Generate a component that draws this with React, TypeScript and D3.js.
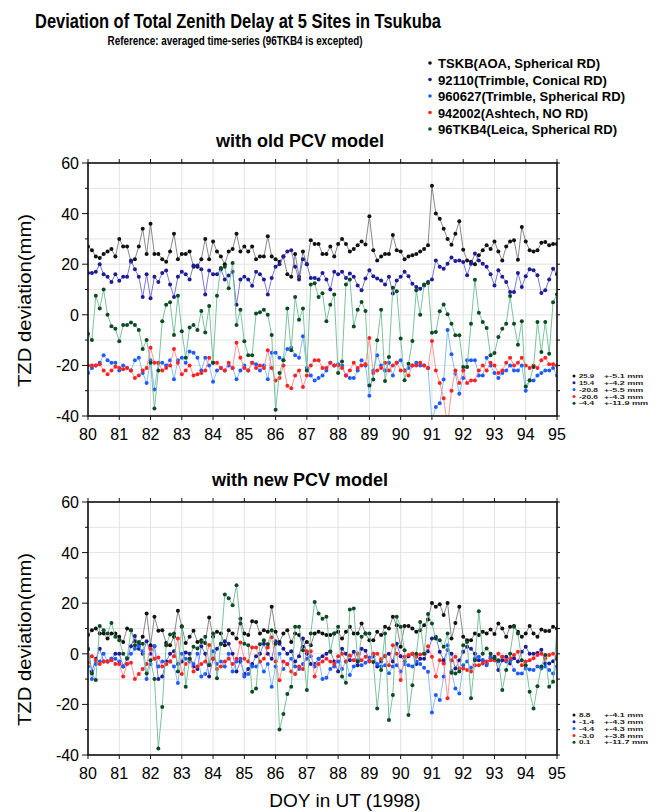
import * as d3 from 'd3';

// 3-hourly epochs, DOY 80.0 .. 95.0
const days = d3.range(121).map(i => 80 + i / 8);

const siteNames = [
  'TSKB(AOA, Spherical RD)',
  '92110(Trimble, Conical RD)',
  '960627(Trimble, Spherical RD)',
  '942002(Ashtech, NO RD)',
  '96TKB4(Leica, Spherical RD)',
];
const legendWidths = [162, 169, 187, 150, 179];
const dotColours = ['#111111', '#1c1c96', '#1f5cff', '#ff2222', '#0b4a22'];
const lineColours = ['#7a7a7a', '#6a6ad4', '#79b6ff', '#ff8a8a', '#6cbc92'];

// ---- with old PCV model ----
const oldTSKB = [
  27, 25.5, 23, 22.5, 24, 25, 26, 23,
  30, 27, 27, 21, 22, 27, 34, 24,
  36, 24, 24, 22, 21, 25, 32, 22,
  24, 24, 25, 19, 19, 22, 30, 22,
  29, 25, 23, 20, 25, 26, 32, 25,
  27, 25, 27, 22, 23, 23, 31, 23,
  22, 21, 23, 16, 15, 24, 15, 25,
  20, 29.5, 28, 28, 24, 24, 27, 23,
  28, 30, 28, 25, 26, 27.5, 29, 27.8,
  39, 25.5, 21.5, 23, 24, 24, 31.5, 25.5,
  25, 22, 23, 23.5, 24, 25, 26, 27.5,
  51, 40, 38, 34, 30, 27.7, 32, 37,
  25.7, 21.5, 21, 20, 23.5, 25.5, 27.5, 26,
  29, 25, 21.5, 27, 29, 29.5, 21.8, 34.7,
  29, 25.5, 25, 25.5, 28.5, 28.8, 27.5, 28,
  28,
];
const old92110 = [
  16.5, 16.5, 17, 20, 16, 15, 13, 16,
  13.5, 15, 15, 21.5, 18, 15, 7, 16,
  6.5, 15, 13, 16.5, 17.5, 12, 7, 15,
  17, 16, 14, 19.5, 19.5, 18, 8, 17.5,
  16, 16, 18, 14, 15.5, 17, 4, 14,
  15, 14, 11.5, 17, 16, 14, 8, 14.5,
  19, 20, 23, 25, 25.5, 19, 14, 22,
  20, 14.5, 14.5, 14, 16.5, 14, 10, 17,
  16, 17, 14.5, 16.3, 15, 11.6, 9.7, 14.3,
  17.6, 15.2, 14.3, 13.6, 12, 15, 8.4, 13.6,
  15, 17, 15.2, 12.3, 11, 10.3, 11.6, 13,
  14, 21.5, 19, 18.2, 20.2, 22.6, 21.3, 21.5,
  20.9, 15.6, 20.2, 24.2, 21.5, 20.2, 19, 16,
  11.6, 17.6, 15, 13, 9, 9, 16.5, 11,
  15.2, 18, 17.6, 15.6, 8.6, 9.7, 14, 18.2,
  16,
];
const old960627 = [
  -23, -21, -20, -19, -16, -18, -19, -19,
  -22, -20, -21, -22, -18, -17, -23, -27,
  -18, -29.5, -19, -19, -20, -18, -25.5, -18,
  -17, -19, -14.5, -15, -17, -22, -17, -20,
  -26.5, -22, -21, -22, -20, -21, -25.5, -22,
  -20, -22, -19, -19.5, -22, -20, -25.5, -15,
  -15, -17, -18, -13.5, -13, -16, -17, -8.5,
  -21, -24, -26, -25, -24, -22, -19, -20,
  -19.5, -20, -24, -25, -25, -22, -18, -20,
  -32, -22, -16, -20, -22, -19, -24, -19,
  -18, -22, -21, -20, -19, -20, -20, -21,
  -42, -36.4, -35, -25.6, -6, -15.6, -23.3, -31.2,
  -25, -18, -18, -18, -24, -24, -17, -20,
  -23, -25, -23, -22, -20, -22, -22, -20,
  -30, -26, -26, -24, -23, -22, -22, -21,
  -24,
];
const old942002 = [
  -20, -20, -20, -19.5, -22, -23.5, -22, -20.5,
  -21, -21.5, -21, -22, -25, -24, -22, -21,
  -13, -19, -19, -22, -21, -20, -13.5, -19,
  -23.5, -22, -20, -24, -23.5, -23, -22, -17,
  -19, -19, -21, -22, -19, -21, -11, -17,
  -21, -22, -19, -21, -20, -21, -14, -21,
  -26, -25, -20, -28, -29, -24, -22, -28.5,
  -24, -20, -18, -18, -21, -21, -19, -20,
  -20, -21, -24, -22, -19, -21, -20, -19.5,
  -9.2, -23, -22, -21, -19, -22, -20, -19,
  -22, -22, -24, -20, -20, -19, -20, -21,
  -10.4, -22, -27, -33, -44, -30, -22, -27,
  -22, -27, -26, -26, -22, -20, -22, -19,
  -20, -23, -22, -19, -17, -20, -19, -17,
  -20, -21, -20, -21, -18, -17, -19.5, -19.5,
  -20,
];
const old96TKB4 = [
  -7.5, -10, 7.5, 2.5, 10, 0, -4.5, -5.5,
  -10.5, -4, -4, -3, -4, -6, -13.5, -10,
  -19, -37, -22, -2.5, 4, 5, -8, 7.5,
  -6.5, -17, -5, -4, -6, 1.5, -7, 3.5,
  -19, 7.5, 18.5, 19, 10.5, 20.5, -4, 2,
  -10.5, -16, -16, 0.5, 1, 2, 0, -8,
  -37.5, -23, -18, 2.5, -14, 7, -2, 2.5,
  -22, 12, 12.5, 7, 8.5, -2.5, 4, 8,
  -23, -18.5, 12, 14, -4.6, 2, 5.1, 1.5,
  -27.9, -25.6, -10.1, 2, -26.2, -16.7, 10.7, 9.3,
  -9.4, -25.9, -19.3, -10.4, 9.7, 0, 12, 12.6,
  -7.1, -6.8, 1.4, 4.1, 0.2, -3.5, -8.1, -8.1,
  -20.6, -20.6, -3.5, 13.9, 0.8, -2.8, -5.2, -16,
  -15.1, -8.8, -5.5, -3.5, 7.4, -3.5, -11.8, -2.5,
  -28.3, -25.9, -20.6, -2.8, -14.7, -2.8, -15.4, 5,
  8.1,
];
const oldStats = [
  ['25.9', '+-5.1 mm'],
  ['15.4', '+-4.2 mm'],
  ['-20.8', '+-5.5 mm'],
  ['-20.6', '+-4.3 mm'],
  ['-4.4', '+-11.9 mm'],
];

// ---- with new PCV model ----
const newTSKB = [
  7.4, 9.3, 10, 8, 8, 6, 8, 8,
  6.7, 4.7, 10, 9.3, 5, 3.8, 6.7, 15.9,
  3.4, 14.6, 9.1, 9.3, 4.3, 3.4, 6.7, 17,
  10.9, 4.3, 6.7, 9.1, 4.7, 5.4, 4.3, 14.3,
  6.7, 8.7, 8, 3.4, 9.3, 8, 6, 13.9,
  8, 7.4, 12.9, 12.6, 8, 9.3, 8.7, 18.6,
  8.7, 4.7, 8, 9.3, 4.7, 8, 7.4, 2.8,
  4.7, 3.4, 8, 8.7, 8, 7.4, 7.4, 8,
  8.7, 6, 8.7, 10.7, 8, 8, 12, 8,
  5.4, 5.4, 8.7, 7.4, 10.7, 10, 14.6, 11.3,
  2.8, 11, 11, 10, 8.7, 9.3, 11.3, 13.6,
  20.1, 18.6, 19.6, 15.3, 20.1, 6, 12.2, 18.6,
  6.7, 5.4, 5.4, 8, 7.4, 8.7, 8, 9.6,
  7.8, 12, 10, 6.7, 10.7, 11, 8.7, 6.7,
  8, 11, 8, 6.7, 9.6, 9, 9, 10.7,
  10,
];
const new92110 = [
  2, -7, -2, 2, -3, -3, -2, 0,
  0, -5, -2, 3, 7, 2, 0, 5,
  0, 3, -10, -9, -3, 0, 1, -4,
  -3, 0.5, 0, -5, -6, 3, 0, -9,
  -2, 2, 4, 5, 4, 0, -7, -3,
  -8, -6, -4, -1, 0, 4, 0, -2,
  5, 4, 2, 0, 1, -3, -1, 6,
  0, -4, -4, -2, -1, 0, 1, -3,
  -7, 2, 0, -2.5, 0.8, -4.5, 2, 1.2,
  -2.5, -1, -5, -3, -1, 0, -3, 4,
  -1, -3, -1, 0, -4, -2, -2, 1,
  6, 6.7, 0.8, -2.5, 1.5, 0, -5.8, -2.5,
  0.8, 2.8, 2, 0, -2.5, -2.5, -3.8, -1.8,
  -1.2, -6.4, -2.5, -1.2, -3.8, -1.8, -3, 0.8,
  2.8, 0, 0, 0.3, 1.6, -3.8, -3.8, -2.9,
  -2,
];
const new960627 = [
  -5, -10, -4, -3, 0, -3, -2, -2,
  -3, -5, -4, 0, 2, 3, 1, -10,
  -4, 3, -5, -3, -4, -3, -5, -11.5,
  0, -2, -3, -4, 0, -9, -8, -4,
  1, -4, -3, -5, 0, -7, -3, -2,
  -9, -8, -5, -5, -3, -7, -4, -13,
  -5, 0, -6, -4, -2, -5, -6, -4,
  -2, -1, -5, -2, -10, -9.5, -6, -5,
  -3, -6, -3, -8.4, -5, -2.5, -4.5, -3.5,
  -1.5, 0, -4, -5, -4.5, -7.7, -5, -4.5,
  -7, -4, -4.5, -5, -3, -4, -5.5, -7.1,
  -23.2, -16.3, -18.3, -9, 3.4, -6.8, -13.7, -15.7,
  -4.5, -3, -5.5, -1.8, -1.2, -2.5, -4.5, -1.2,
  -2.5, -3, -1.2, -3, -2.5, -6.4, -7.8, -7.8,
  -5.8, -6.2, -6.4, -5, -5.8, -5, -6.4, -7.8,
  -5,
];
const new942002 = [
  -3.5, -1, -2.5, -4, -3, -3, -2.5, -4,
  -4, -9, -4, -3.5, -10, -8, -6, -4,
  2, -2, -1.5, -5, -4, -3, -1, 6,
  -8, -4, -2, -7, -5, -4, -3, 3.5,
  -2, -6, -5, -3, -2, -4, -2, 4.5,
  -2, -3, 2.5, 2.5, -3, -2, 2.5, 6.5,
  -3, -10.5, -3, -4, -7, -8, -5, -6,
  1, 1, -9, -4, -3, -2, -3, -4,
  -1, 0, -3, -0.7, -2.5, 0, -2.5, -1.2,
  -3, 0, 0, -2.2, -0.8, -4.5, 3.4, 0,
  -10.4, -1.2, -0.5, 0, -1.2, -0.3, 0, 3,
  -1.2, -9, -2.5, -3.8, -17.6, -2.5, -1.2, -5.8,
  -5.8, -6.4, -7, -4.5, -4.5, -3.8, -3, -2.5,
  -2.5, 0, -1.2, -2.5, -1.8, -0.5, 0.8, -4.5,
  -3, -2.5, -1.8, -0.5, 0, -1.8, -0.5, 0,
  -1,
];
const new96TKB4 = [
  1.7, -7.8, -10.4, 11, 9.3, 8, 12.2, 6.7,
  5.4, 0, -1.8, 9.3, 3.4, 4.7, 4, -7.8,
  -2.5, -10, -37.4, -21, 3.4, 7.6, 8, -7,
  10.7, -13, -2, 2.8, 2.1, 4.7, 6.7, -4.5,
  8, -9.7, 4, 23.4, 22, 19.2, 27.1, 12,
  4, 3.4, -15, -13.7, 3.8, 5.4, 3.8, 9.3,
  4, -29.9, -23.8, -15.9, -13, 10.7, 10.7, 1.4,
  -14.3, 8, 20.5, 15.9, 13.9, 14.6, 0.8, 8,
  10.7, -9, -11.4, 17.5, 17.9, -3, 6.7, 8,
  8, -3.2, -21.6, -6.4, 8, -26.2, -16.3, 14.6,
  10.7, 1.4, -24.2, -12.4, 0, 12.6, 0, 15.7,
  12, 6, 5.4, 2.8, 8, -7.5, -7.8, -7,
  3.4, 4.7, -17.6, -2.5, 16.8, 0, 2.1, 0,
  -1.8, -2.5, -14.3, -6.4, 0, 10.7, 8, -2.5,
  -4.5, -15, -21.6, -12.8, -5, -0.5, -13, -11,
  10,
];
const newStats = [
  ['8.8', '+-4.1 mm'],
  ['-1.4', '+-4.3 mm'],
  ['-4.4', '+-4.3 mm'],
  ['-3.0', '+-3.8 mm'],
  ['0.1', '+-11.7 mm'],
];

const yTicks = [-40, -20, 0, 20, 40, 60];
const xTicks = d3.range(80, 96);

const FONT = '"Liberation Sans", Arial, Helvetica, sans-serif';
const LEFT = 88;
const RIGHT = 557;
const PLOT_H = 253;

type PanelProps = {
  id: string,
  top: number,
  title: string,
  series: number[][],
  stats: string[][],
}

function Panel({ id, top, title, series, stats }: PanelProps) {
  const bottom = top + PLOT_H;
  const x = d3.scaleLinear().domain([80, 95]).range([LEFT, RIGHT]);
  const y = d3.scaleLinear().domain([-40, 60]).range([bottom, top]);
  const minor = d3.range(-40, 61, 10);
  const line = d3.line<number>()
    .x((_, i) => x(days[i]))
    .y(d => y(d));

  return (
    <g>
      <defs>
        <clipPath id={id}>
          <rect x={LEFT} y={top} width={RIGHT - LEFT} height={PLOT_H} />
        </clipPath>
      </defs>
      <text x={300} y={top - 16} textAnchor="middle" fontSize={18} fontWeight="bold">{title}</text>

      {/* grid */}
      {xTicks.map(t => (
        <line key={'gx' + t} x1={x(t)} x2={x(t)} y1={top} y2={bottom} stroke="#dcdcdc" strokeWidth={0.8} />
      ))}
      {minor.map(t => (
        <line key={'gy' + t} x1={LEFT} x2={RIGHT} y1={y(t)} y2={y(t)} stroke="#dcdcdc" strokeWidth={0.8} />
      ))}

      {/* series */}
      <g clipPath={`url(#${id})`}>
        {series.map((s, k) => (
          <g key={'s' + k}>
            <path d={line(s) ?? ''} fill="none" stroke={lineColours[k]} strokeWidth={0.9} />
            {s.map((v, i) => (
              <circle key={i} cx={x(days[i])} cy={y(v)} r={2} fill={dotColours[k]} />
            ))}
          </g>
        ))}
      </g>

      {/* frame and ticks */}
      <rect x={LEFT} y={top} width={RIGHT - LEFT} height={PLOT_H} fill="none" stroke="#111" strokeWidth={1.6} />
      {xTicks.map(t => (
        <g key={'tx' + t}>
          <line x1={x(t)} x2={x(t)} y1={top} y2={top - 4} stroke="#111" strokeWidth={1} />
          <line x1={x(t)} x2={x(t)} y1={bottom} y2={bottom + 4} stroke="#111" strokeWidth={1} />
          <text x={x(t)} y={bottom + 24} textAnchor="middle" fontSize={16}>{t}</text>
        </g>
      ))}
      {minor.map(t => {
        const major = t % 20 === 0;
        return (
          <g key={'ty' + t}>
            <line x1={LEFT} x2={LEFT - (major ? 6 : 3)} y1={y(t)} y2={y(t)} stroke="#111" strokeWidth={1} />
            <line x1={RIGHT} x2={RIGHT + 3} y1={y(t)} y2={y(t)} stroke="#111" strokeWidth={1} />
          </g>
        );
      })}
      {yTicks.map(t => (
        <text key={'ly' + t} x={LEFT - 9} y={y(t) + 6} textAnchor="end" fontSize={16}>{t}</text>
      ))}
      <text transform={`translate(31,${(top + bottom) / 2 + 11}) rotate(-90)`} textAnchor="middle"
        fontSize={18} textLength={173} lengthAdjust="spacingAndGlyphs">TZD deviation(mm)</text>

      {/* mean +- sigma */}
      {stats.map((s, k) => {
        const yy = bottom - 40 + k * 6.8;
        return (
          <g key={'st' + k}>
            <circle cx={574} cy={yy} r={1.5} fill={dotColours[k]} />
            <text x={579} y={yy + 2.2} fontSize={5.8} fontWeight="bold" fill="#222"
              textLength={s[0].length * 3.8} lengthAdjust="spacingAndGlyphs">{s[0]}</text>
            <text x={604} y={yy + 2.2} fontSize={5.8} fontWeight="bold" fill="#222"
              textLength={s[1].length * 4.9} lengthAdjust="spacingAndGlyphs">{s[1]}</text>
          </g>
        );
      })}
    </g>
  );
}

export default function App() {
  return (
    <svg width={666} height={812} style={{ position: 'absolute', left: 0, top: 0, background: '#fff' }}
      fontFamily={FONT}>
      <text x={238} y={28} textAnchor="middle" fontSize={21} fontWeight="bold"
        textLength={406} lengthAdjust="spacingAndGlyphs">Deviation of Total Zenith Delay at 5 Sites in Tsukuba</text>
      <text x={235} y={45} textAnchor="middle" fontSize={12.5} fontWeight="bold"
        textLength={255} lengthAdjust="spacingAndGlyphs">Reference: averaged time-series (96TKB4 is excepted)</text>

      {siteNames.map((name, k) => (
        <g key={name}>
          <circle cx={430} cy={63 + k * 16.5} r={1.8} fill={dotColours[k]} />
          <text x={438} y={68 + k * 16.5} fontSize={13.5} fontWeight="bold"
            textLength={legendWidths[k]} lengthAdjust="spacingAndGlyphs">{name}</text>
        </g>
      ))}

      <Panel id="clipOld" top={163} title="with old PCV model"
        series={[oldTSKB, old92110, old960627, old942002, old96TKB4]} stats={oldStats} />
      <Panel id="clipNew" top={502} title="with new PCV model"
        series={[newTSKB, new92110, new960627, new942002, new96TKB4]} stats={newStats} />

      <text x={345} y={807} textAnchor="middle" fontSize={19}>DOY in UT (1998)</text>
    </svg>
  );
}
